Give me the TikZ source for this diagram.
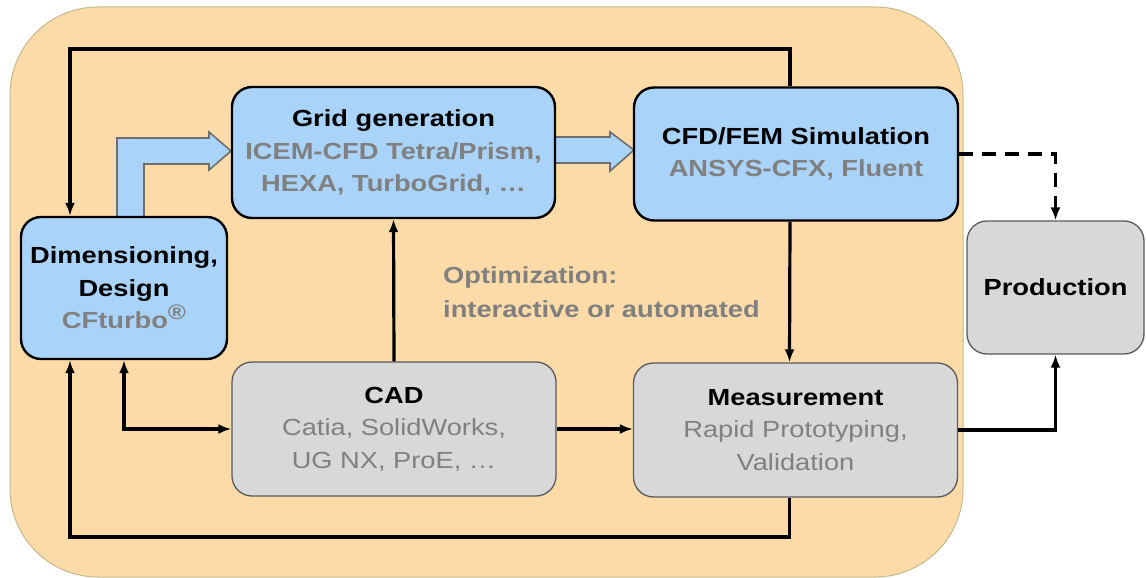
\documentclass[tikz,border=0pt]{standalone}
\usepackage{fontspec}
\setmainfont{Liberation Sans}[FakeStretch=1.17]
\usetikzlibrary{arrows.meta}
\definecolor{bgpeach}{RGB}{252,219,168}
\definecolor{bgline}{RGB}{196,186,140}
\definecolor{boxblue}{RGB}{170,211,250}
\definecolor{boxgray}{RGB}{216,216,216}
\definecolor{txtgray}{RGB}{128,128,128}
\definecolor{edgegray}{RGB}{90,90,90}
\definecolor{blockedge}{RGB}{110,110,110}
\tikzset{
  base/.style={rounded corners=20, align=center, inner sep=0pt,
    font=\fontsize{23.3}{32.5}\selectfont},
  bluebox/.style={base, fill=boxblue, draw=black, line width=2.4},
  graybox/.style={base, fill=boxgray, draw=edgegray, line width=1.3},
  conn/.style={line width=3.2, line join=miter, -{Latex[length=13,width=10]}},
  block/.style={fill=boxblue, draw=blockedge, line width=1.6, line join=miter},
}
\begin{document}
\begin{tikzpicture}[x=1pt,y=-1pt]
\useasboundingbox (0,0) rectangle (1146,578);
% background panel
\draw[fill=bgpeach, draw=bgline, line width=1, rounded corners=88] (10,7) rectangle (963,577);

% block arrows
\draw[block] (117,218) -- (117,138) -- (209,138) -- (209,132) -- (231,151) -- (209,170) -- (209,164) -- (144,164) -- (144,218);
\draw[block] (554,137) -- (610,137) -- (610,132) -- (634,150) -- (610,171) -- (610,163) -- (554,163);

% nodes
\node[bluebox, minimum width=206, minimum height=142] (dim) at (124,288)
  {\bfseries Dimensioning,\\\bfseries Design\\\bfseries\color{txtgray}CFturbo\raisebox{9pt}{\fontsize{21}{21}\selectfont\textregistered}};
\node[bluebox, minimum width=323, minimum height=131] (grid) at (393.5,152.5)
  {\bfseries Grid generation\\\bfseries\color{txtgray}ICEM-CFD Tetra/Prism,\\\bfseries\color{txtgray}HEXA, TurboGrid, \dots};
\node[bluebox, minimum width=324, minimum height=133] (cfd) at (796,154)
  {\bfseries CFD/FEM Simulation\\\bfseries\color{txtgray}ANSYS-CFX, Fluent};
\node[graybox, minimum width=177, minimum height=133] (prod) at (1055.5,287.5)
  {\bfseries Production};
\node[graybox, minimum width=324, minimum height=134] (cad) at (394,429)
  {\bfseries CAD\\\color{txtgray}Catia, SolidWorks,\\\color{txtgray}UG NX, ProE, \dots};
\node[graybox, minimum width=324, minimum height=134] (meas) at (795.5,430)
  {\bfseries Measurement\\\color{txtgray}Rapid Prototyping,\\\color{txtgray}Validation};
\node[base, anchor=west, align=left, text=txtgray, font=\fontsize{23.3}{34}\selectfont\bfseries] (opt) at (443,292)
  {Optimization:\\interactive or automated};

% connectors
\coordinate (tl) at (70,49);
\coordinate (bl) at (70,537);
\draw[conn] ([xshift=-6]cfd.north) |- (tl) -- (tl |- dim.north);
\draw[conn] ([xshift=-6]meas.south) |- (bl) -- (bl |- dim.south);
\draw[line width=3.2, {Latex[length=13,width=10]}-{Latex[length=13,width=10]}, line join=miter] (dim.south) |- (cad.west);
\draw[conn] (cad.north) -- (grid.south);
\draw[conn] (cad.east) -- (cad.east -| meas.west);
\draw[conn] ([xshift=-6]cfd.south) -- ([xshift=-6]meas.north);
\draw[conn] (meas.east) -| (prod.south);
\draw[conn, dash pattern=on 14 off 9] (cfd.east) -| (prod.north);
\end{tikzpicture}
\end{document}
